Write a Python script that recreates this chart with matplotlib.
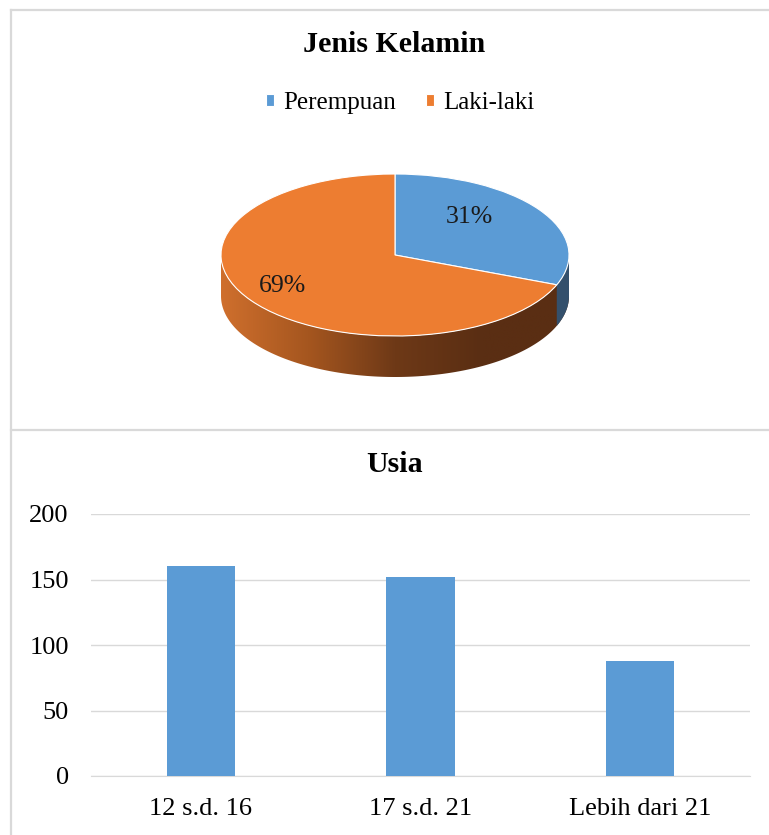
import numpy as np
import matplotlib
matplotlib.use("Agg")
import matplotlib.pyplot as plt
from matplotlib.patches import Polygon
from matplotlib.colors import LinearSegmentedColormap

plt.rcParams["font.family"] = ["Liberation Serif", "DejaVu Serif"]

# data
gender_labels = ["Perempuan", "Laki-laki"]
gender_share = [31, 69]
gender_colors = ["#5b9bd5", "#ed7d31"]

age_cats = ["12 s.d. 16", "17 s.d. 21", "Lebih dari 21"]
age_vals = [160, 152, 88]
age_ticks = [0, 50, 100, 150, 200]

W, H = 769, 835
fig = plt.figure(figsize=(W / 100, H / 100), dpi=100)

# panel borders
def px_line(x0, y0, x1, y1):
    fig.add_artist(plt.Line2D([x0 / W, x1 / W], [1 - y0 / H, 1 - y1 / H],
                              color="#d9d9d9", lw=1.6, transform=fig.transFigure))

px_line(11, 10, W, 10)
px_line(11, 10, 11, H)
px_line(11, 429.5, W, 429.5)

# ---- pie (top panel) ----
k = 174 / 81.0          # vertical squash of the pie
top_h = 430
ax1 = fig.add_axes([0, 1 - top_h / H, 1, top_h / H])
cx, cy, R = 395, -255 * k, 174
wedges, _ = ax1.pie(gender_share, colors=gender_colors, startangle=90,
                    counterclock=False, center=(cx, cy), radius=R,
                    wedgeprops=dict(edgecolor="white", linewidth=0.8),
                    frame=True)
ax1.set_aspect("auto")
ax1.set_xlim(0, W)
ax1.set_ylim(-top_h * k, 0)
ax1.axis("off")

# side of the 3d pie
depth = 41 * k
t = np.linspace(np.pi, 2 * np.pi, 200)
ex, ey = cx + R * np.cos(t), cy + R * np.sin(t)
side = Polygon(np.column_stack([np.r_[ex, ex[::-1]], np.r_[ey, ey[::-1] - depth]]),
               facecolor="none", edgecolor="none", zorder=0.5)
ax1.add_patch(side)
cmap = LinearSegmentedColormap.from_list(
    "side", ["#cf6f2d", "#a5561f", "#6e3917", "#5a2e13", "#5a2e13"])
grad = np.linspace(0, 1, 256)[None, :]
im = ax1.imshow(grad, extent=(cx - R, cx + R, cy - R - depth, cy), aspect="auto",
                cmap=cmap, zorder=0.5)
im.set_clip_path(side)

# blue part of the side (right edge)
a_end = np.deg2rad(90 - 360 * gender_share[0] / sum(gender_share))
tb = np.linspace(a_end, 0, 40)
bx, by = cx + R * np.cos(tb), cy + R * np.sin(tb)
ax1.add_patch(Polygon(np.column_stack([np.r_[bx, bx[::-1]], np.r_[by, by[::-1] - depth]]),
                      facecolor="#34506c", edgecolor="none", zorder=0.6))

# percentage labels (radius, vertical nudge in px)
lab_r = [0.52, 0.78]
lab_dy = [14, 5]
start = 90.0
for i, v in enumerate(gender_share):
    span = 360.0 * v / sum(gender_share)
    mid = np.deg2rad(start - span / 2)
    start -= span
    lx = cx + R * lab_r[i] * np.cos(mid)
    ly = cy + R * lab_r[i] * np.sin(mid) + lab_dy[i] * k
    ax1.text(lx, ly, f"{v}%", ha="center", va="center", fontsize=18.5, color="#1a1a1a")

ax1.legend(wedges, gender_labels, loc="center", bbox_to_anchor=(400 / W, 1 - 103 / top_h),
           ncol=2, frameon=False, fontsize=18, handlelength=0.33, handleheight=0.33,
           handletextpad=0.35, columnspacing=1.2)
fig.text(394 / W, 1 - 45 / H, "Jenis Kelamin", ha="center", va="center",
         fontsize=21.5, fontweight="bold")

# ---- bar chart (bottom panel) ----
ax2 = fig.add_axes([91 / W, (H - 776) / H, 659 / W, 262 / H])
x = np.arange(len(age_cats))
ax2.bar(x, age_vals, width=0.31, color="#5b9bd5", zorder=3)
ax2.set_xlim(-0.5, len(age_cats) - 0.5)
ax2.set_ylim(0, 200)
ax2.set_yticks(age_ticks)
ax2.set_xticks(x, age_cats)
ax2.grid(axis="y", color="#d9d9d9", lw=1.0, zorder=0)
for s in ["top", "right", "left"]:
    ax2.spines[s].set_visible(False)
ax2.spines["bottom"].set_color("#d9d9d9")
ax2.tick_params(axis="y", length=0, pad=16, labelsize=19)
ax2.tick_params(axis="x", length=0, pad=16, labelsize=19)
fig.text(395 / W, 1 - 464 / H, "Usia", ha="center", va="center",
         fontsize=21.5, fontweight="bold")

fig.savefig("out.png", dpi=100)
